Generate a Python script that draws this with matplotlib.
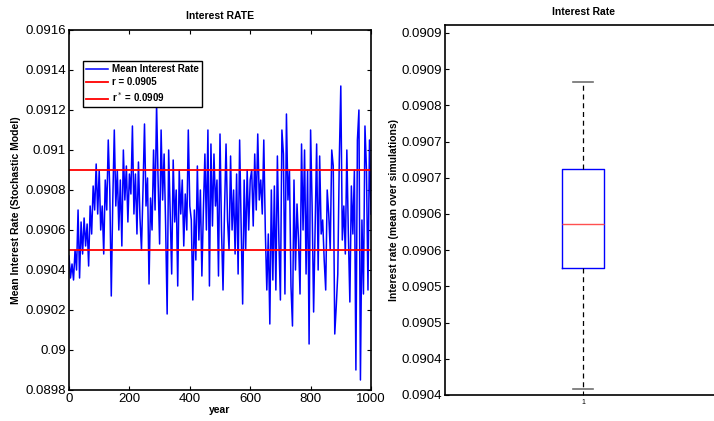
import numpy as np
import matplotlib.pyplot as plt

plt.rcParams['font.family'] = ['Liberation Sans', 'DejaVu Sans']

# mean interest rate per year (every 5 years)
years = np.arange(0, 1001, 5)
mean_rate = [
    0.09047, 0.09036, 0.09043, 0.09035, 0.09050, 0.09040, 0.09070, 0.09036, 0.09064, 0.09048,
    0.09066, 0.09052, 0.09063, 0.09042, 0.09072, 0.09058, 0.09082, 0.09070, 0.09093, 0.09068,
    0.09090, 0.09060, 0.09072, 0.09048, 0.09085, 0.09070, 0.09105, 0.09080, 0.09027, 0.09075,
    0.09110, 0.09072, 0.09090, 0.09060, 0.09085, 0.09052, 0.09100, 0.09075, 0.09092, 0.09064,
    0.09088,
    0.09078, 0.09112, 0.09068, 0.09088, 0.09058, 0.09094, 0.09066, 0.09050, 0.09080, 0.09113,
    0.09072, 0.09086, 0.09033, 0.09076, 0.09060, 0.09100, 0.09070, 0.09123, 0.09085, 0.09053,
    0.09110, 0.09075, 0.09098, 0.09062, 0.09018, 0.09100, 0.09070, 0.09038, 0.09095, 0.09064,
    0.09080, 0.09032, 0.09090, 0.09068, 0.09085, 0.09052, 0.09078, 0.09060, 0.09110, 0.09072,
    0.09065, 0.09025, 0.09070, 0.09045, 0.09092, 0.09055, 0.09080, 0.09037, 0.09070, 0.09098,
    0.09060, 0.09110, 0.09032, 0.09103, 0.09062, 0.09098, 0.09072, 0.09085, 0.09037, 0.09108,
    0.09060, 0.09030, 0.09070, 0.09103, 0.09065, 0.09050, 0.09097, 0.09060, 0.09080, 0.09048,
    0.09088, 0.09038, 0.09105, 0.09062, 0.09023, 0.09085, 0.09050, 0.09090, 0.09060, 0.09085,
    0.09090, 0.09062, 0.09098, 0.09070, 0.09108, 0.09075, 0.09085, 0.09068, 0.09105, 0.09060,
    0.09030, 0.09058, 0.09013, 0.09080, 0.09035, 0.09082, 0.09030, 0.09097, 0.09055, 0.09025,
    0.09110, 0.09098, 0.09028, 0.09118, 0.09075, 0.09090, 0.09032, 0.09012, 0.09085, 0.09040,
    0.09073, 0.09055, 0.09028, 0.09103, 0.09060, 0.09100, 0.09038, 0.09090, 0.09003, 0.09110,
    0.09072, 0.09019, 0.09060, 0.09103, 0.09040, 0.09097, 0.09058, 0.09065, 0.09045, 0.09030,
    0.09080, 0.09068, 0.09050, 0.09100, 0.09092, 0.09008, 0.09022, 0.09038, 0.09095, 0.09132,
    0.09055, 0.09072, 0.09048, 0.09100, 0.09058, 0.09024, 0.09082, 0.09058, 0.09090, 0.08990,
    0.09105, 0.09120, 0.08985, 0.09065, 0.09028, 0.09112, 0.09090, 0.09030, 0.09105, 0.09068,
]
r_low = 0.0905
r_star = 0.0909

# box plot summary of the simulated means
box_stats = {'whislo': 0.090408, 'q1': 0.090576, 'med': 0.090636,
             'q3': 0.0907125, 'whishi': 0.090832}
box_ticks = [0.09040, 0.09045, 0.09050, 0.09055, 0.09060, 0.09065,
             0.09070, 0.09075, 0.09080, 0.09085, 0.09090]
box_tick_labels = ['0.0904', '0.0904', '0.0905', '0.0905', '0.0906', '0.0906',
                   '0.0907', '0.0907', '0.0908', '0.0909', '0.0909']

fig = plt.figure(figsize=(7.14, 4.21), dpi=100)

# left: time series
ax1 = fig.add_axes([69/714, 31/421, 302/714, 360/421])
ax1.plot(years, mean_rate, color='blue', lw=1.1, label='Mean Interest Rate')
ax1.axhline(r_low, color='red', lw=1.3, label='r = 0.0905')
ax1.axhline(r_star, color='red', lw=1.3, label=r'r$^*$ = 0.0909')
ax1.set_xlim(0, 1000)
ax1.set_ylim(0.0898, 0.0916)
ax1.set_xticks(np.arange(0, 1001, 200))
ax1.set_yticks(np.arange(0.0898, 0.09161, 0.0002))
ax1.set_yticklabels(['0.0898', '0.09', '0.0902', '0.0904', '0.0906', '0.0908',
                     '0.091', '0.0912', '0.0914', '0.0916'])
ax1.tick_params(direction='in', top=True, right=True, length=3, labelsize=9.5, pad=2)
ax1.set_title('Interest RATE', fontsize=7.5, fontweight='bold', pad=8)
ax1.set_xlabel('year', fontsize=7.5, fontweight='bold', labelpad=0)
ax1.set_ylabel('Mean Interest Rate (Stochastic Model)', fontsize=7.5, fontweight='bold', labelpad=3)
for s in ax1.spines.values():
    s.set_linewidth(1.2)
leg = ax1.legend(loc='upper left', bbox_to_anchor=(0.046, 0.914), borderaxespad=0,
                 prop={'weight': 'bold', 'size': 7}, fancybox=False, framealpha=1,
                 edgecolor='black', borderpad=0.35, labelspacing=0.3,
                 handlelength=2.2, handletextpad=0.4)
leg.get_frame().set_linewidth(1.0)

# right: box plot
ax2 = fig.add_axes([445/714, 26/421, 276/714, 370/421])
ax2.bxp([box_stats], positions=[1], widths=0.152, showfliers=False,
        boxprops=dict(color='blue', lw=1.0),
        medianprops=dict(color='#ff5050', lw=1.0),
        whiskerprops=dict(color='black', lw=0.9, linestyle=(0, (4, 3))),
        capprops=dict(color='#707070', lw=1.2), capwidths=0.075)
ax2.set_xlim(0.5, 1.5)
ax2.set_ylim(0.09040, 0.090911)
ax2.set_yticks(box_ticks)
ax2.set_yticklabels(box_tick_labels)
ax2.set_xticks([1])
ax2.set_xticklabels(['1'])
ax2.tick_params(axis='y', direction='in', length=3, labelsize=9.5, pad=2)
ax2.tick_params(axis='x', direction='in', length=3, labelsize=5, pad=3)
ax2.set_title('Interest Rate', fontsize=7.5, fontweight='bold', pad=7)
ax2.set_ylabel('Interest rate (mean over simulations)', fontsize=7.5, fontweight='bold', labelpad=2)
for s in ax2.spines.values():
    s.set_linewidth(1.2)

fig.savefig('out.png', dpi=100)
